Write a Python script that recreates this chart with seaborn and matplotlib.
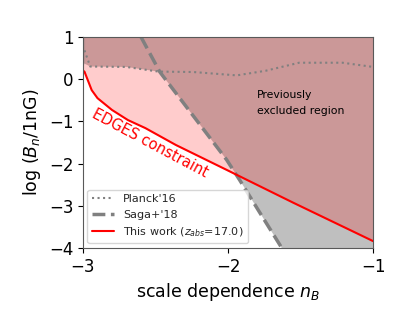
import numpy as np
import pandas as pd
import seaborn as sns
import matplotlib
matplotlib.use("Agg")
import matplotlib.pyplot as plt

# Planck'16 upper limit (dotted)
planck_x = [-2.99, -2.99, -2.95, -2.70, -2.48, -2.24, -1.94, -1.74, -1.51, -1.21, -1.00]
planck_y = [1.00, 0.37, 0.30, 0.29, 0.18, 0.17, 0.09, 0.20, 0.39, 0.39, 0.29]

# Saga+'18 limit (dashed)
saga_x = [-2.60, -2.47, -2.20, -2.01, -1.92, -1.78, -1.63]
saga_y = [1.00, 0.17, -1.05, -1.91, -2.39, -3.17, -4.00]

# This work, EDGES constraint (z_abs = 17.0)
edges_x = [-3.00, -2.99, -2.94, -2.90, -2.80, -2.69, -2.57, -2.36, -2.01, -1.55, -1.00]
edges_y = [0.20, 0.18, -0.26, -0.45, -0.73, -0.97, -1.16, -1.56, -2.15, -2.93, -3.84]

sns.set_style("ticks")
plt.rcParams['font.family'] = ['DejaVu Sans']
plt.rcParams['mathtext.fontset'] = 'dejavusans'

fig = plt.figure(figsize=(4.15, 3.11), dpi=100)
ax = fig.add_axes([0.200, 0.203, 0.699, 0.678])

# shaded regions
grid = np.linspace(-3, -1, 801)
pl = np.interp(grid, planck_x[1:], planck_y[1:])
sg = np.interp(grid, saga_x, saga_y, left=10, right=-10)
prev = np.minimum(pl, sg)
ed = np.interp(grid, edges_x, edges_y)
ax.fill_between(grid, prev, 1, color='gray', alpha=0.5, lw=0)
ax.fill_between(grid, ed, 1, color='red', alpha=0.2, lw=0)

df_p = pd.DataFrame({'x': planck_x, 'y': planck_y})
df_s = pd.DataFrame({'x': saga_x, 'y': saga_y})
df_e = pd.DataFrame({'x': edges_x, 'y': edges_y})
sns.lineplot(data=df_p, x='x', y='y', ax=ax, color='gray', ls=':', lw=1.5,
             sort=False, label="Planck'16")
sns.lineplot(data=df_s, x='x', y='y', ax=ax, color='gray', ls='--', lw=2.5,
             sort=False, label="Saga+'18")
sns.lineplot(data=df_e, x='x', y='y', ax=ax, color='red', ls='-', lw=1.5,
             sort=False, label=r"This work ($z_{abs}$=17.0)")

ax.set_xlim(-3, -1)
ax.set_ylim(-4, 1)
ax.set_xticks([-3, -2, -1])
ax.set_yticks([-4, -3, -2, -1, 0, 1])
ax.tick_params(labelsize=12, colors='black', length=3.5, width=0.8)
for s in ax.spines.values():
    s.set_color('0.35')
ax.set_xlabel(r"scale dependence $n_B$", fontsize=12.5, color='black')
ax.set_ylabel(r"log $(B_n/1{\rm nG})$", fontsize=12.5, color='black')

ax.text(-2.54, -1.51, "EDGES constraint", color='red', fontsize=10.5,
        rotation=-28, ha='center', va='center')
ax.text(-1.80, -0.56, "Previously\nexcluded region", color='black', fontsize=7.8,
        ha='left', va='center', linespacing=1.75)

ax.legend(loc='lower left', fontsize=8, frameon=True, handlelength=2.0,
          borderaxespad=0.4)

fig.savefig("out.png", dpi=100)
